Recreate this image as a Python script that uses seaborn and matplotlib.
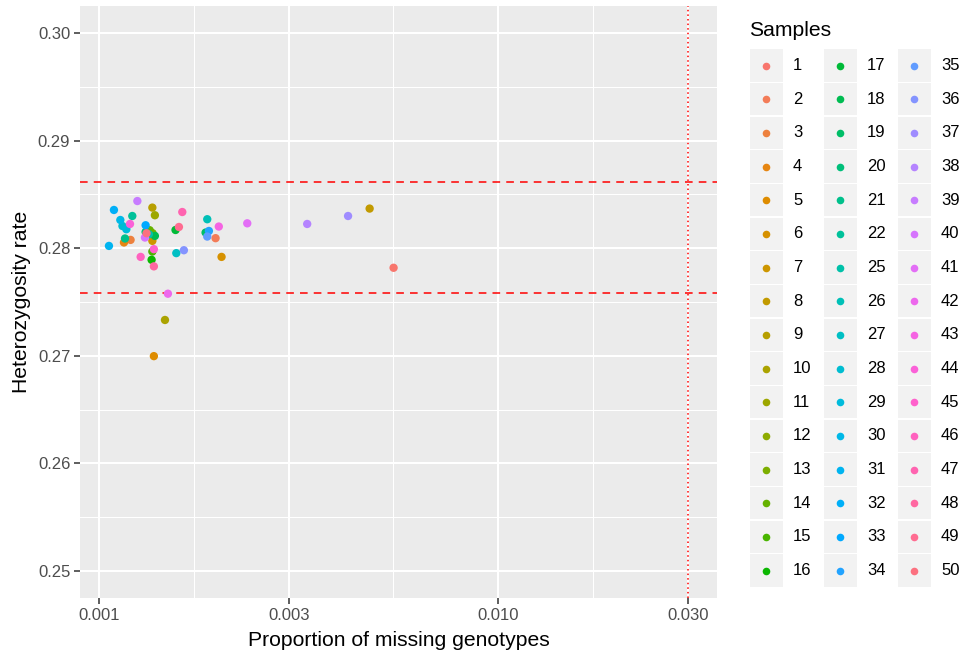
import math
import numpy as np
import pandas as pd
import matplotlib
matplotlib.use("Agg")
import matplotlib.pyplot as plt
from matplotlib.patches import Rectangle
import seaborn as sns

# Sample identifiers (23 and 24 are absent)
samples = list(range(1, 23)) + list(range(25, 51))

# Proportion of missing genotypes per sample
missing = [
    0.005484, 0.001963, 0.001202, 0.001157, 0.001375, 0.002032, 0.001363, 0.004776,
    0.001363, 0.001466, 0.001383, 0.001350, 0.001365, 0.001342, 0.001363, 0.001357,
    0.001558, 0.001383, 0.001853, 0.001311, 0.001164, 0.001214,
    0.001336, 0.001871, 0.001565, 0.001147, 0.001173, 0.001133, 0.001061, 0.001092,
    0.001311, 0.001889, 0.001871, 0.001635, 0.004217, 0.003331, 0.001250, 0.001306,
    0.002357, 0.001491, 0.002000, 0.001198, 0.001375, 0.001274, 0.001620, 0.001375,
    0.001589, 0.001318,
]

# Heterozygosity rate per sample
het_rate = [
    0.27818, 0.28093, 0.28077, 0.28053, 0.26997, 0.27919, 0.28068, 0.28368,
    0.28377, 0.27333, 0.28306, 0.28148, 0.28139, 0.28167, 0.27969, 0.27892,
    0.28169, 0.28114, 0.28145, 0.28151, 0.28090, 0.28299,
    0.28130, 0.28269, 0.27954, 0.28206, 0.28176, 0.28262, 0.28021, 0.28355,
    0.28213, 0.28160, 0.28108, 0.27981, 0.28299, 0.28225, 0.28438, 0.28099,
    0.28231, 0.27577, 0.28201, 0.28225, 0.27991, 0.27919, 0.28336, 0.27831,
    0.28197, 0.28139,
]

# Thresholds: heterozygosity mean +/- 3 SD and missingness cut-off
het_upper = 0.28618
het_lower = 0.27579
miss_cutoff = 0.03

x_breaks = [0.001, 0.003, 0.010, 0.030]
x_labels = ["0.001", "0.003", "0.010", "0.030"]
y_breaks = [0.25, 0.26, 0.27, 0.28, 0.29, 0.30]
y_labels = ["0.25", "0.26", "0.27", "0.28", "0.29", "0.30"]


def hcl_hex(h, c=100.0, l=65.0):
    """Polar LUV -> sRGB hex, as grDevices::hcl does."""
    wy, wu, wv = 100.0, 0.1978398, 0.4683363
    hr = math.radians(h)
    U, V = c * math.cos(hr), c * math.sin(hr)
    Y = wy * ((l + 16) / 116) ** 3 if l > 7.999592 else wy * l / 903.3
    u = U / (13 * l) + wu
    v = V / (13 * l) + wv
    X = 9.0 * Y * u / (4 * v)
    Z = -X / 3 - 5 * Y + 3 * Y / v
    X, Y, Z = X / 100, Y / 100, Z / 100
    r = 3.240479 * X - 1.537150 * Y - 0.498535 * Z
    g = -0.969256 * X + 1.875992 * Y + 0.041556 * Z
    b = 0.055648 * X - 0.204043 * Y + 1.057311 * Z

    def gam(t):
        t = 1.055 * t ** (1 / 2.4) - 0.055 if t > 0.00304 else 12.92 * t
        return min(max(t, 0.0), 1.0)

    return "#{:02X}{:02X}{:02X}".format(*(int(round(255 * gam(t))) for t in (r, g, b)))


n = len(samples)
hues = np.linspace(15, 375, n + 1)[:n]
palette = {str(s): hcl_hex(h % 360) for s, h in zip(samples, hues)}

df = pd.DataFrame({
    "Samples": [str(s) for s in samples],
    "missing": missing,
    "het": het_rate,
})

W, H = 964, 657
fig = plt.figure(figsize=(W / 100, H / 100), dpi=100)
fig.patch.set_facecolor("white")
plt.rcParams["font.family"] = ["Liberation Sans", "DejaVu Sans"]

px_l, px_r, px_t, px_b = 80, 717, 6, 598
ax = fig.add_axes([px_l / W, 1 - px_b / H, (px_r - px_l) / W, (px_b - px_t) / H])
ax.set_facecolor("#EBEBEB")
for s in ax.spines.values():
    s.set_visible(False)

ax.set_xscale("log")
lx = np.log10([min(missing), miss_cutoff])
ex = 0.05 * (lx[1] - lx[0])
ax.set_xlim(10 ** (lx[0] - ex), 10 ** (lx[1] + ex))
ax.set_ylim(0.25 - 0.0025, 0.30 + 0.0025)

# grid: major and minor
minor_x = [10 ** ((math.log10(a) + math.log10(b)) / 2) for a, b in zip(x_breaks[:-1], x_breaks[1:])]
minor_y = [0.255, 0.265, 0.275, 0.285, 0.295]
for v in minor_x:
    ax.axvline(v, color="white", lw=0.75, zorder=0)
for v in minor_y:
    ax.axhline(v, color="white", lw=0.75, zorder=0)
for v in x_breaks:
    ax.axvline(v, color="white", lw=1.5, zorder=0)
for v in y_breaks:
    ax.axhline(v, color="white", lw=1.5, zorder=0)

sns.scatterplot(data=df, x="missing", y="het", hue="Samples",
                hue_order=[str(s) for s in samples], palette=palette,
                s=36, linewidth=0, legend=False, ax=ax, zorder=3)

ax.axhline(het_upper, color="red", lw=1.1, ls=(0, (5, 4)), zorder=2)
ax.axhline(het_lower, color="red", lw=1.1, ls=(0, (5, 4)), zorder=2)
ax.axvline(miss_cutoff, color="red", lw=1.1, ls=(0, (1, 2)), zorder=2)

ax.xaxis.set_minor_locator(matplotlib.ticker.NullLocator())
ax.set_xticks(x_breaks)
ax.set_xticklabels(x_labels)
ax.set_yticks(y_breaks)
ax.set_yticklabels(y_labels)
ax.tick_params(axis="both", which="major", length=4, width=1.1, color="#333333",
               labelsize=12, labelcolor="#4D4D4D", pad=3)
ax.set_xlabel("Proportion of missing genotypes", fontsize=15.2, color="black", labelpad=6)
ax.set_ylabel("Heterozygosity rate", fontsize=15.2, color="black", labelpad=5)

# legend drawn in pixel space
lg = fig.add_axes([0, 0, 1, 1], facecolor="none")
lg.set_xlim(0, W)
lg.set_ylim(H, 0)
lg.axis("off")
lg.text(749, 30, "Samples", fontsize=15.2, va="center", ha="left", color="black")
key_x = [750, 824, 898]
lab_x = [793, 867, 941]
row0, step, ksz = 65.5, 33.67, 32.5
for i, s in enumerate(samples):
    col, row = divmod(i, 16)
    cy = row0 + row * step
    lg.add_patch(Rectangle((key_x[col], cy - ksz / 2), ksz, ksz, facecolor="#F2F2F2",
                           edgecolor="none"))
    lg.scatter([key_x[col] + ksz / 2], [cy], s=30, color=palette[str(s)], linewidths=0)
    lg.text(lab_x[col], cy, str(s), fontsize=12, va="center", ha="left", color="black")

fig.savefig("out.png", dpi=100)
